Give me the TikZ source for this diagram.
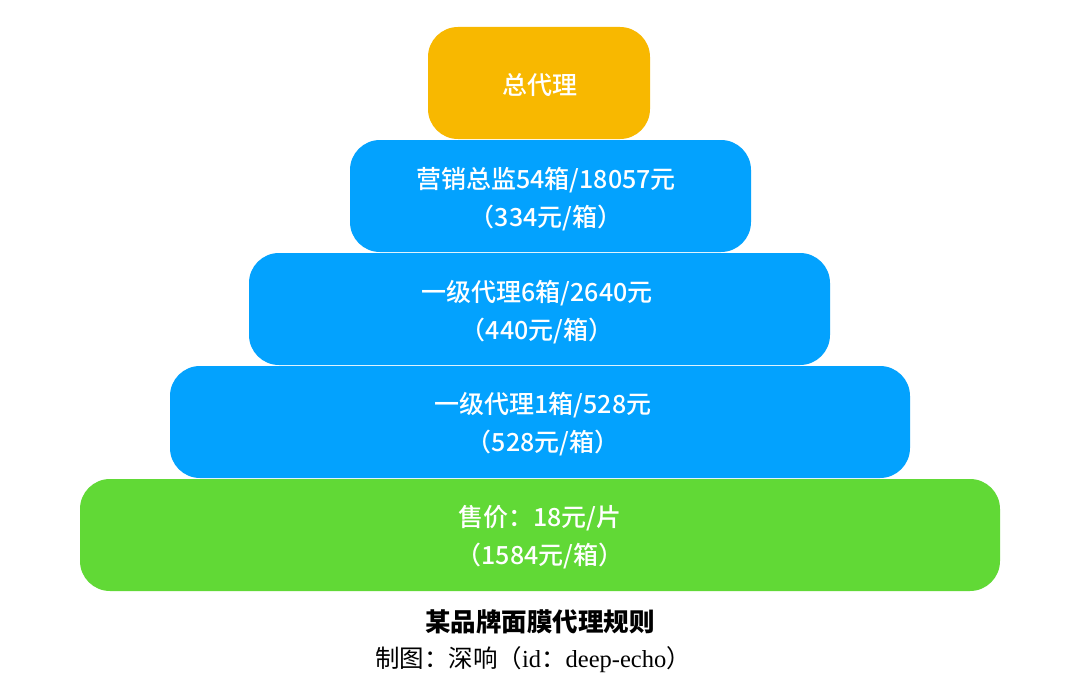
\documentclass[tikz,border=0pt]{standalone}
\usepackage{fontspec}
\newfontfamily\cjk{Noto Sans CJK SC}
\newfontfamily\cjkm{Noto Sans CJK SC Medium}
\newfontfamily\lat{Liberation Serif}
\definecolor{orangebox}{HTML}{F8B800}
\definecolor{bluebox}{HTML}{03A2FE}
\definecolor{greenbox}{HTML}{61D936}
\begin{document}
\begin{tikzpicture}[x=1pt,y=-1pt,
  tier/.style={rounded corners=30pt, inner sep=0pt, text=white,
    font=\cjkm\fontsize{25}{38}\selectfont, align=center},
  caption/.style={inner sep=0pt, font=\cjk\fontsize{24.5}{28}\selectfont}]
\useasboundingbox (0,0) rectangle (1080,685);
\fill[white] (0,0) rectangle (1080,685);
% boxes
\fill[orangebox, rounded corners=30pt] (428,27) rectangle (650,139);
\fill[bluebox, rounded corners=30pt] (350,140) rectangle (751,252);
\fill[bluebox, rounded corners=30pt] (249,253) rectangle (830,365);
\fill[bluebox, rounded corners=30pt] (170,366) rectangle (910,478);
\fill[greenbox, rounded corners=30pt] (80,479) rectangle (1000,591);
% texts
\node[tier] (t0) at (540,85) {总代理};
\node[tier] (t1) at (546,199) {营销总监54箱/18057元\\（334元/箱）};
\node[tier] (t2) at (537,312) {一级代理6箱/2640元\\（440元/箱）};
\node[tier] (t3) at (543,424) {一级代理1箱/528元\\（528元/箱）};
\node[tier] (t4) at (540,537) {售价：18元/片\\（1584元/箱）};
% caption
\node[caption, font=\cjk\bfseries\fontsize{25.5}{28}\selectfont] (cap1) at (540,622) {某品牌面膜代理规则};
\node[caption] (cap2) at (533,660) {制图：深响（{\lat id}：{\lat deep-echo}）};
\end{tikzpicture}
\end{document}
